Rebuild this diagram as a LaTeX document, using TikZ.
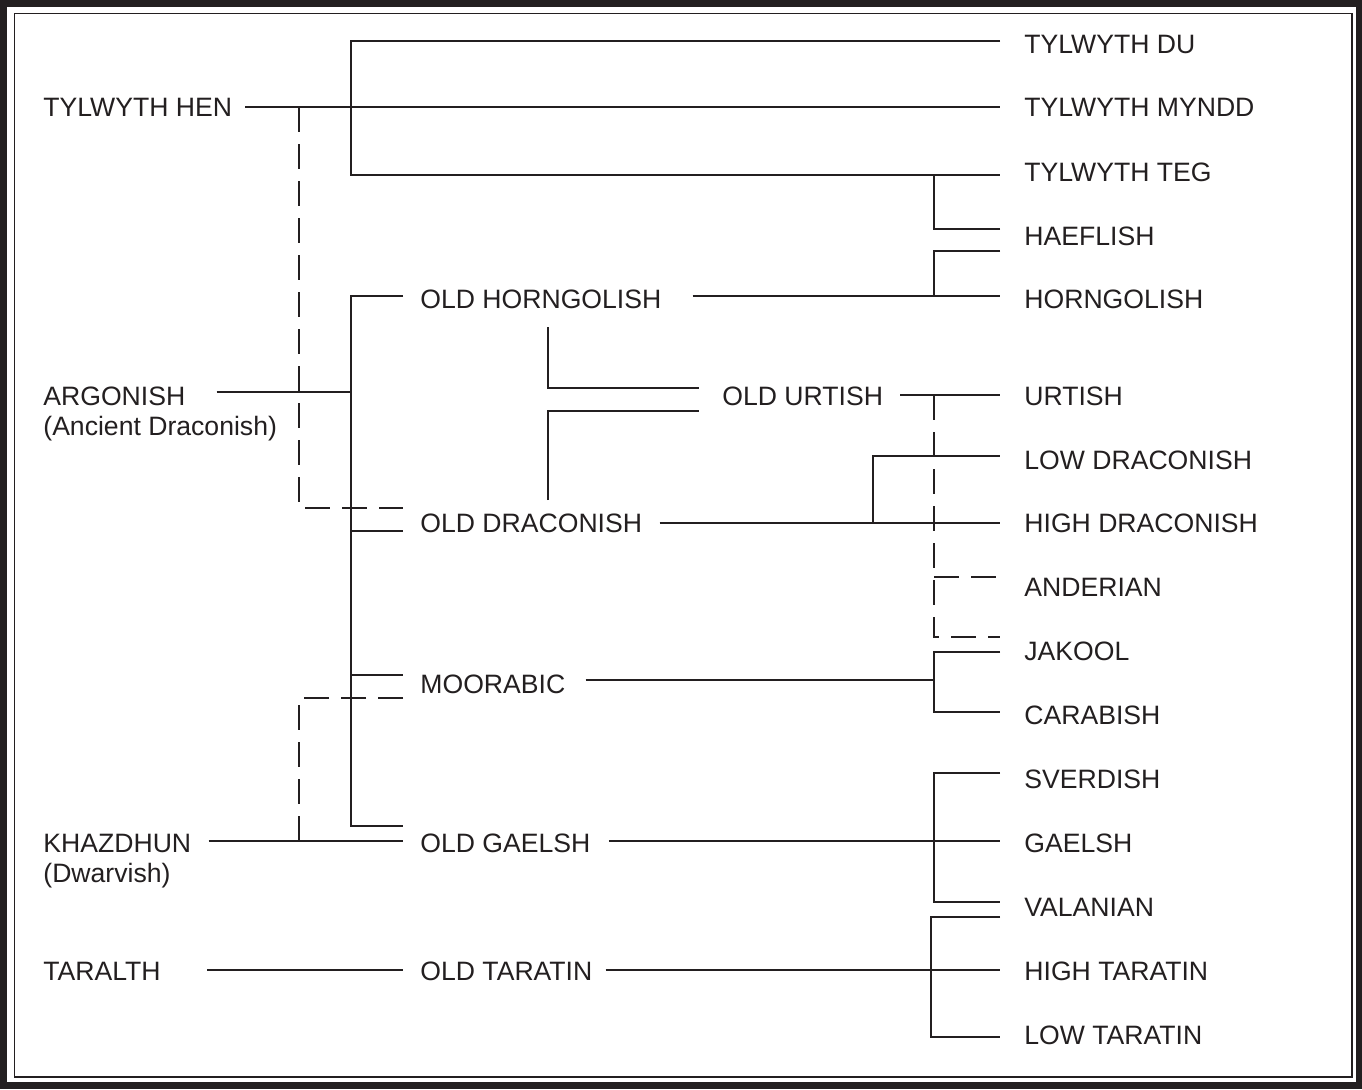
\documentclass[tikz,border=0pt]{standalone}
\usepackage{fontspec}
\setmainfont{Liberation Sans}
\usetikzlibrary{positioning, calc}
\definecolor{ink}{RGB}{35,31,32}

\begin{document}
\begin{tikzpicture}[
    x=0.5pt, y=-0.5pt,
    lang/.style={anchor=west, inner sep=0pt, text=ink, font=\fontsize{13.3}{15}\selectfont},
    link/.style={draw=ink, line width=1.1pt},
    maybe/.style={link, dash pattern=on 12.5pt off 6pt}
]
% frame
\fill[ink] (0,0) rectangle (1362,1089);
\fill[white] (7,7) rectangle (1356,1082);
\draw[ink, line width=0.8pt] (14.5,13.5) rectangle (1352,1077);

% old roots
\node[lang] (hen) at (43,107) {TYLWYTH HEN};
\node[lang] (argonish) at (43,396) {ARGONISH};
\node[lang] (argonishnote) at (43,429) {(Ancient Draconish)};
\node[lang] (khazdhun) at (43,843) {KHAZDHUN};
\node[lang] (khazdhunnote) at (43,876) {(Dwarvish)};
\node[lang] (taralth) at (43,971) {TARALTH};

% middle stage
\node[lang] (oldhorn) at (420,299) {OLD HORNGOLISH};
\node[lang] (olddrac) at (420,523) {OLD DRACONISH};
\node[lang] (moorabic) at (420,684) {MOORABIC};
\node[lang] (oldgaelsh) at (420,843) {OLD GAELSH};
\node[lang] (oldtar) at (420,971) {OLD TARATIN};
\node[lang] (oldurtish) at (722,396) {OLD URTISH};

% modern tongues
\node[lang] (du) at (1024,44) {TYLWYTH DU};
\node[lang] (myndd) at (1024,107) {TYLWYTH MYNDD};
\node[lang] (teg) at (1024,172) {TYLWYTH TEG};
\node[lang] (haeflish) at (1024,236) {HAEFLISH};
\node[lang] (horngolish) at (1024,299) {HORNGOLISH};
\node[lang] (urtish) at (1024,396) {URTISH};
\node[lang] (lowdrac) at (1024,460) {LOW DRACONISH};
\node[lang] (highdrac) at (1024,523) {HIGH DRACONISH};
\node[lang] (anderian) at (1024,587) {ANDERIAN};
\node[lang] (jakool) at (1024,651) {JAKOOL};
\node[lang] (carabish) at (1024,715) {CARABISH};
\node[lang] (sverdish) at (1024,779) {SVERDISH};
\node[lang] (gaelsh) at (1024,843) {GAELSH};
\node[lang] (valanian) at (1024,907) {VALANIAN};
\node[lang] (hightar) at (1024,971) {HIGH TARATIN};
\node[lang] (lowtar) at (1024,1035) {LOW TARATIN};

% forks
\coordinate (tylfork) at (351,107);
\coordinate (tegfork) at (934,175);
\coordinate (hornfork) at (934,296);
\coordinate (spine) at (351,392);
\coordinate (henfork) at (299,107);
\coordinate (khazfork) at (299,841);
\coordinate (urtfork) at (934,395);
\coordinate (andfork) at (934,577);
\coordinate (dracfork) at (873,523);
\coordinate (moorfork) at (934,680);
\coordinate (gaelfork) at (934,841);
\coordinate (tarfork) at (931,970);

% Tylwyth Hen
\draw[link] ([shift={(13,0)}]hen.east) -- ([shift={(-24,0)}]myndd.west);
\draw[link] ([shift={(-24,-3)}]du.west) -| (tylfork) |- ([shift={(-24,3)}]teg.west);
\draw[link] ([shift={(-24,-7)}]haeflish.west) -| (tegfork);
\draw[maybe] (henfork) |- ([shift={(-17,-15)}]olddrac.west);

% Argonish
\draw[link] ([shift={(31,-4)}]argonish.east) -- (spine);
\draw[link] ([shift={(-17,-3)}]oldhorn.west) -| (spine) |- ([shift={(-17,-17)}]oldgaelsh.west);
\draw[link] ([shift={(-69,8)}]olddrac.west) -- ([shift={(-17,8)}]olddrac.west);
\draw[link] ([shift={(-69,-9)}]moorabic.west) -- ([shift={(-17,-9)}]moorabic.west);

% Khazdhun and Taralth
\draw[link] ([shift={(17,-2)}]khazdhun.east) -- ([shift={(-17,-2)}]oldgaelsh.west);
\draw[maybe] ([shift={(-17,14)}]moorabic.west) -| (khazfork);
\draw[link] ([shift={(46,-1)}]taralth.east) -- ([shift={(-17,-1)}]oldtar.west);

% Old Horngolish
\draw[link] ([shift={(31,-3)}]oldhorn.east) -- ([shift={(-24,-3)}]horngolish.west);
\draw[link] ([shift={(-24,15)}]haeflish.west) -| (hornfork);
\draw[link] ([shift={(128,28)}]oldhorn.west) |- ([shift={(-23,-8)}]oldurtish.west);
\draw[link] ([shift={(128,-23)}]olddrac.west) |- ([shift={(-23,15)}]oldurtish.west);

% Old Urtish
\draw[link] ([shift={(17,-1)}]oldurtish.east) -- ([shift={(-24,-1)}]urtish.west);
\draw[maybe] (urtfork) |- ([shift={(-24,-14)}]jakool.west);
\draw[maybe] (andfork) -- ([shift={(-24,-10)}]anderian.west);

% Old Draconish
\draw[link] ([shift={(17,0)}]olddrac.east) -- ([shift={(-24,0)}]highdrac.west);
\draw[link] (dracfork) |- ([shift={(-24,-4)}]lowdrac.west);

% Moorabic
\draw[link] ([shift={(20,-4)}]moorabic.east) -- (moorfork);
\draw[link] ([shift={(-24,1)}]jakool.west) -| (moorfork) |- ([shift={(-24,-3)}]carabish.west);

% Old Gaelsh
\draw[link] ([shift={(18,-2)}]oldgaelsh.east) -- ([shift={(-24,-2)}]gaelsh.west);
\draw[link] ([shift={(-24,-6)}]sverdish.west) -| (gaelfork) |- ([shift={(-24,-5)}]valanian.west);

% Old Taratin
\draw[link] ([shift={(13,-1)}]oldtar.east) -- ([shift={(-24,-1)}]hightar.west);
\draw[link] ([shift={(-24,10)}]valanian.west) -| (tarfork) |- ([shift={(-24,2)}]lowtar.west);
\end{tikzpicture}
\end{document}
